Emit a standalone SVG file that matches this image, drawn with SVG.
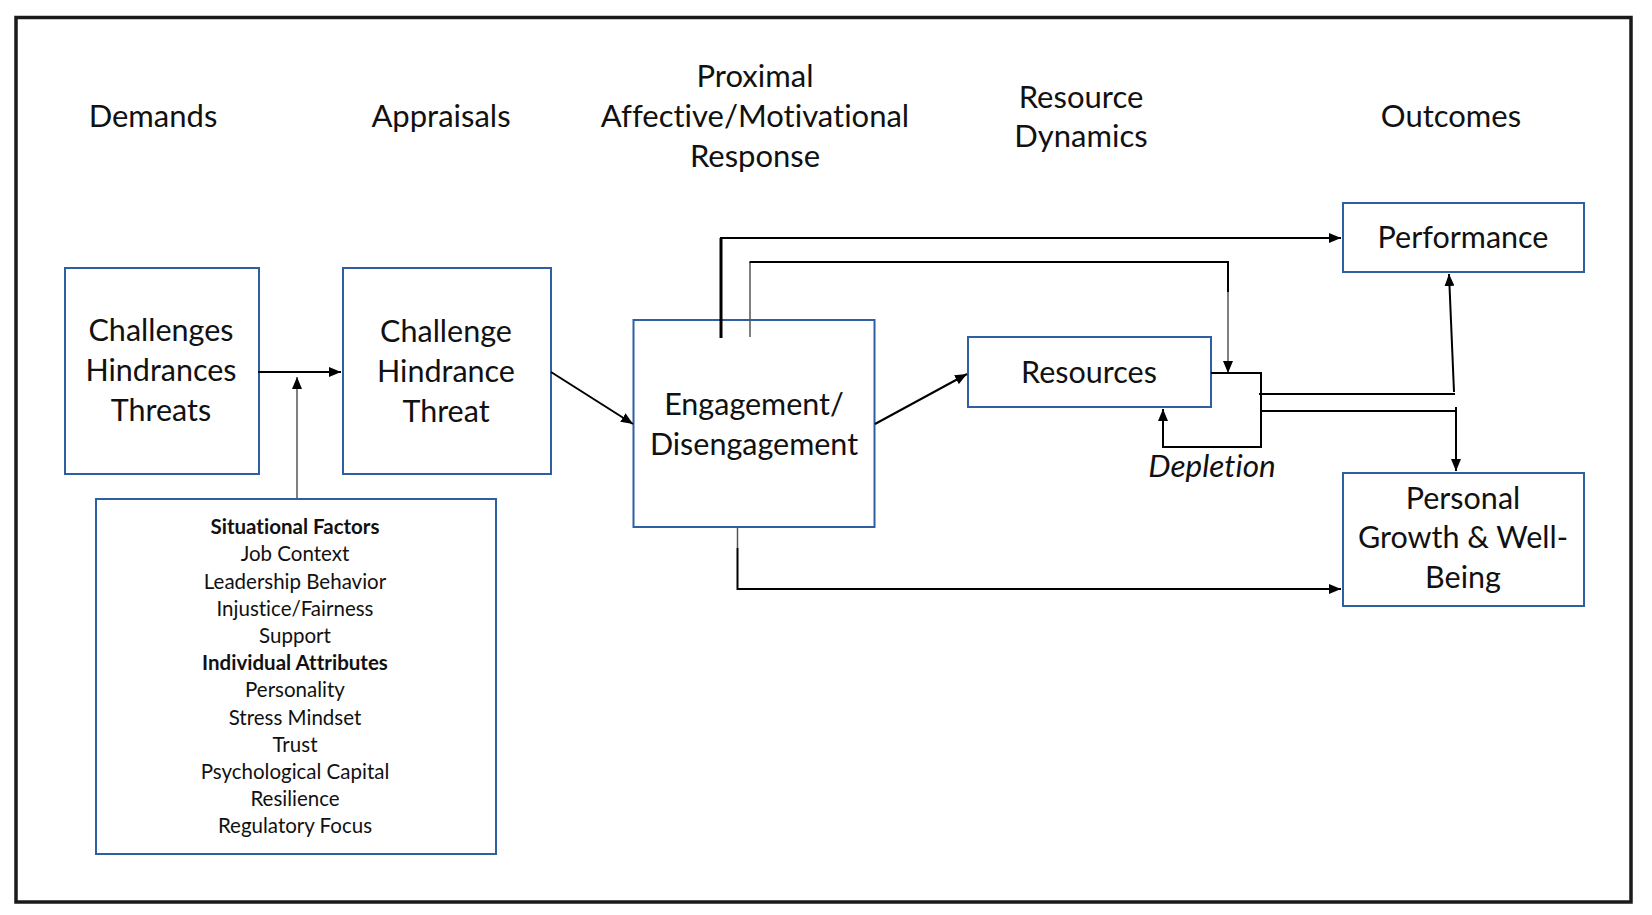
<svg xmlns="http://www.w3.org/2000/svg" width="1652" height="915" viewBox="0 0 1652 915">
<defs>
<marker id="ah" markerWidth="12" markerHeight="10" refX="12" refY="5" orient="auto" markerUnits="userSpaceOnUse"><path d="M0,0 L12,5 L0,10 z" fill="#000"/></marker>
</defs>
<style>
text{font-family:Lato,"Liberation Sans",sans-serif;fill:#111;text-anchor:middle;font-variant-ligatures:none;font-feature-settings:"liga" 0,"clig" 0}
.h{font-size:31px}
.b{font-size:30.5px}
.s{font-size:20.5px}
.sb{font-size:20.5px;font-weight:bold}
.box{fill:#fff;stroke:#2e5fa3;stroke-width:2}
.ln{fill:none;stroke:#000;stroke-width:2}
.gr{fill:none;stroke:#555;stroke-width:1.5}
</style>
<rect width="1652" height="915" fill="#fff"/>
<rect x="16" y="17.5" width="1615" height="884.5" fill="none" stroke="#1a1a1a" stroke-width="3.5"/>
<g id="headers">
<text class="h" x="153" y="127">Demands</text>
<text class="h" x="441" y="127">Appraisals</text>
<text class="h" x="755" y="87">Proximal</text>
<text class="h" x="755" y="127">Affective/Motivational</text>
<text class="h" x="755" y="167">Response</text>
<text class="h" x="1081" y="108">Resource</text>
<text class="h" x="1081" y="147">Dynamics</text>
<text class="h" x="1451" y="127">Outcomes</text>
</g>
<g id="demands">
<rect class="box" x="65" y="268" width="194" height="206"/>
<text class="b" x="161" y="341">Challenges</text>
<text class="b" x="161" y="381">Hindrances</text>
<text class="b" x="161" y="421">Threats</text>
</g>
<g id="appraisals">
<rect class="box" x="343" y="268" width="208" height="206"/>
<text class="b" x="446" y="342">Challenge</text>
<text class="b" x="446" y="382">Hindrance</text>
<text class="b" x="446" y="422">Threat</text>
</g>
<g id="engagement">
<rect class="box" x="633.5" y="320" width="241" height="207"/>
<text class="b" x="754" y="415">Engagement/</text>
<text class="b" x="754" y="455">Disengagement</text>
</g>
<g id="resources">
<rect class="box" x="968" y="337" width="243" height="70"/>
<text class="b" x="1089" y="383">Resources</text>
</g>
<text id="depletion" class="b" x="1212" y="477" font-style="italic" style="font-size:31.5px">Depletion</text>
<g id="performance">
<rect class="box" x="1343" y="203" width="241" height="69"/>
<text class="b" x="1463" y="248">Performance</text>
</g>
<g id="wellbeing">
<rect class="box" x="1343" y="473" width="241" height="133"/>
<text class="b" x="1463" y="509">Personal</text>
<text class="b" x="1463" y="548">Growth &amp; Well-</text>
<text class="b" x="1463" y="588">Being</text>
</g>
<g id="moderators">
<rect class="box" x="96" y="499" width="400" height="355"/>
<text class="sb" x="295" y="534">Situational Factors</text>
<text class="s" x="295" y="561">Job Context</text>
<text class="s" x="295" y="588.5">Leadership Behavior</text>
<text class="s" x="295" y="615.5">Injustice/Fairness</text>
<text class="s" x="295" y="643">Support</text>
<text class="sb" x="295" y="670">Individual Attributes</text>
<text class="s" x="295" y="697">Personality</text>
<text class="s" x="295" y="724.5">Stress Mindset</text>
<text class="s" x="295" y="751.5">Trust</text>
<text class="s" x="295" y="778.5">Psychological Capital</text>
<text class="s" x="295" y="806">Resilience</text>
<text class="s" x="295" y="833">Regulatory Focus</text>
</g>
<g id="connectors">
<path class="ln" d="M258,372 H341" marker-end="url(#ah)"/>
<path class="gr" d="M297,498 V377" marker-end="url(#ah)"/>
<path class="ln" d="M551,372 L633,424" marker-end="url(#ah)"/>
<path class="ln" d="M875,424 L967,374" marker-end="url(#ah)"/>
<path class="ln" d="M721,338 V238" style="stroke-width:3"/>
<path class="ln" d="M720,238 H1341" marker-end="url(#ah)"/>
<path class="gr" d="M750,337 V262"/>
<path class="ln" d="M749.5,262 H1228 V292"/>
<path class="gr" d="M1228,292 V373" marker-end="url(#ah)"/>
<path class="ln" d="M1211,373 H1261 V447 H1163 V409" marker-end="url(#ah)"/>
<path class="ln" d="M1259,394 H1455"/>
<path class="ln" d="M1454,392 L1449,274" marker-end="url(#ah)"/>
<path class="ln" d="M1262,411 H1457"/>
<path class="ln" d="M1456,407 V471" marker-end="url(#ah)"/>
<path class="gr" d="M737.5,527 V548"/>
<path class="ln" d="M737.5,548 V589 H1341" marker-end="url(#ah)"/>
</g>
</svg>
